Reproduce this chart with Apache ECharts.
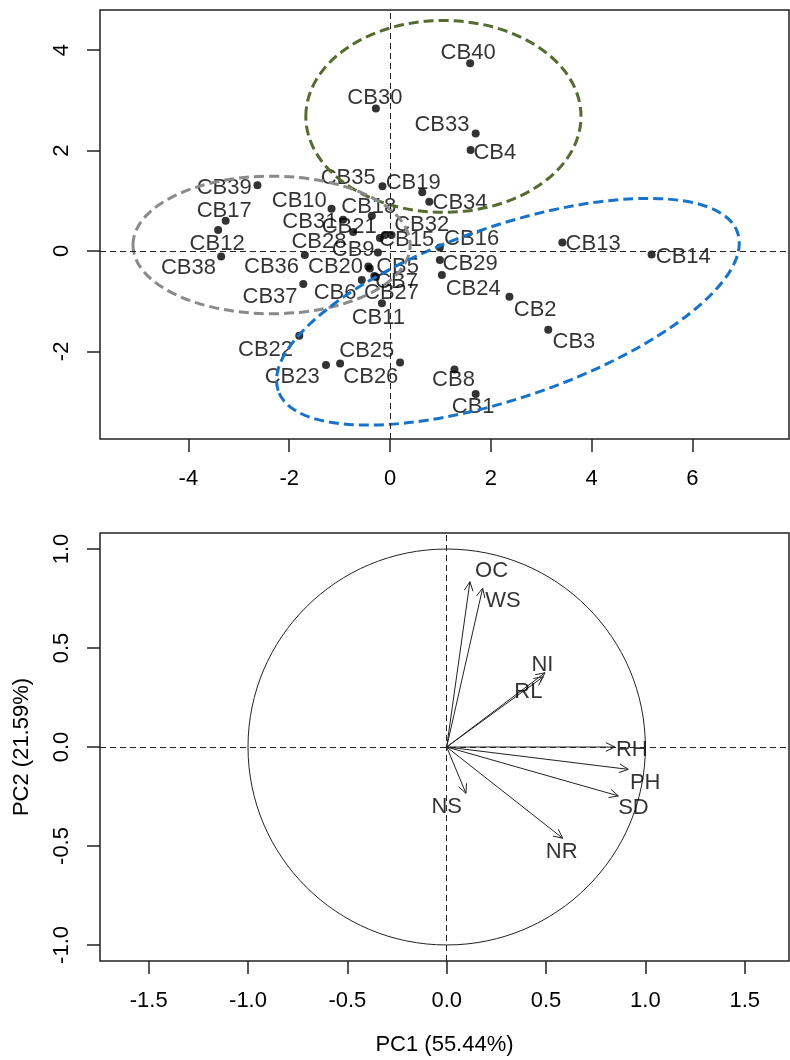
<!DOCTYPE html>
<html>
<head>
<meta charset="utf-8">
<title>PCA</title>
<script src="https://cdn.jsdelivr.net/npm/echarts@6/dist/echarts.min.js"></script>
<style>
    html, body { margin: 0; padding: 0; background: #fff; }
    #main { width: 790px; height: 1060px; }
</style>
</head>
<body>
<div id="main"></div>
<script>
    // scores (top panel)
    var sampleNames = ['CB1', 'CB2', 'CB3', 'CB4', 'CB5', 'CB6', 'CB7', 'CB8', 'CB9', 'CB10',
        'CB11', 'CB12', 'CB13', 'CB14', 'CB15', 'CB16', 'CB17', 'CB18', 'CB19', 'CB20',
        'CB21', 'CB22', 'CB23', 'CB24', 'CB25', 'CB26', 'CB27', 'CB28', 'CB29', 'CB30',
        'CB31', 'CB32', 'CB33', 'CB34', 'CB35', 'CB36', 'CB37', 'CB38', 'CB39', 'CB40'];
    var scorePc1 = [1.70, 2.37, 3.14, 1.60, -0.40, -0.56, -0.31, 1.28, -0.24, -1.16,
        -0.16, -3.41, 3.42, 5.19, -0.10, 0.99, -3.26, -0.36, 0.64, -0.43,
        -0.73, -1.80, -1.27, 1.03, 0.20, -0.99, -0.28, -0.20, 0.99, -0.28,
        -0.93, 0.03, 1.70, 0.78, -0.15, -1.69, -1.72, -3.35, -2.63, 1.59];
    var scorePc2 = [-2.85, -0.91, -1.57, 2.01, -0.35, -0.58, -0.50, -2.36, -0.03, 0.84,
        -1.04, 0.42, 0.17, -0.07, 0.32, 0.07, 0.60, 0.70, 1.17, -0.31,
        0.38, -1.69, -2.27, -0.48, -2.22, -2.24, -0.52, 0.26, -0.18, 2.84,
        0.62, 0.32, 2.34, 0.98, 1.29, -0.08, -0.66, -0.11, 1.31, 3.74];
    // where each sample name is written
    var textPc1 = [1.65, 2.88, 3.65, 2.08, 0.15, -1.09, 0.13, 1.26, -0.73, -1.80,
        -0.23, -3.43, 4.03, 5.82, 0.33, 1.62, -3.29, -0.42, 0.46, -1.08,
        -0.81, -2.47, -1.94, 1.65, -0.46, -0.38, 0.03, -1.41, 1.59, -0.30,
        -1.59, 0.63, 1.03, 1.39, -0.83, -2.35, -2.38, -4.00, -3.29, 1.55];
    var textPc2 = [-3.10, -1.18, -1.81, 1.95, -0.31, -0.84, -0.61, -2.57, 0.02, 1.00,
        -1.34, 0.15, 0.15, -0.11, 0.22, 0.24, 0.80, 0.88, 1.35, -0.31,
        0.48, -1.97, -2.50, -0.76, -2.00, -2.50, -0.84, 0.19, -0.25, 3.05,
        0.58, 0.52, 2.51, 0.95, 1.45, -0.31, -0.91, -0.34, 1.25, 3.94];

    // group ellipses: centre x, centre y, half width, half height, angle (deg)
    var ellipseUpper = [1.06, 2.68, 2.73, 1.91, 0];
    var ellipseLeft = [-2.35, 0.12, 2.75, 1.37, 0];
    var ellipseRight = [2.34, -1.21, 4.82, 1.71, 19];

    var topXTicks = [-4, -2, 0, 2, 4, 6];
    var topYTicks = [-2, 0, 2, 4];

    // loadings (bottom panel)
    var varNames = ['OC', 'WS', 'NI', 'RL', 'RH', 'PH', 'SD', 'NS', 'NR'];
    var loadPc1 = [0.117, 0.181, 0.495, 0.486, 0.847, 0.914, 0.864, 0.097, 0.584];
    var loadPc2 = [0.835, 0.802, 0.375, 0.355, 0.000, -0.113, -0.247, -0.234, -0.461];
    var varTextPc1 = [0.226, 0.283, 0.482, 0.411, 0.932, 0.999, 0.940, 0.000, 0.579];
    var varTextPc2 = [0.887, 0.736, 0.414, 0.278, -0.015, -0.182, -0.310, -0.301, -0.529];
    var unitCircle = [0, 0, 1, 1, 0];

    var loadTicks = [-1.5, -1, -0.5, 0, 0.5, 1, 1.5];
    var loadYTicks = [-1, -0.5, 0, 0.5, 1];

    var FONT = '"Liberation Sans", Arial, sans-serif';
    var INK = '#222';

    function zip(xs, ys, names) {
        var out = [];
        for (var i = 0; i < xs.length; i++) {
            out.push(names ? { name: names[i], value: [xs[i], ys[i]] } : [xs[i], ys[i]]);
        }
        return out;
    }

    function ellipseRenderer(stroke, width, dash) {
        return function (params, api) {
            var c = api.coord([api.value(0), api.value(1)]);
            var rx = api.size([api.value(2), 0])[0];
            var ry = api.size([0, api.value(3)])[1];
            return {
                type: 'ellipse',
                x: c[0],
                y: c[1],
                rotation: api.value(4) * Math.PI / 180,
                shape: { cx: 0, cy: 0, rx: rx, ry: ry },
                style: { fill: 'none', stroke: stroke, lineWidth: width, lineDash: dash }
            };
        };
    }

    function renderArrow(params, api) {
        var o = api.coord([0, 0]);
        var t = api.coord([api.value(0), api.value(1)]);
        var ang = Math.atan2(t[1] - o[1], t[0] - o[0]);
        var len = 10, spread = Math.PI / 7;
        var p1 = [t[0] - len * Math.cos(ang - spread), t[1] - len * Math.sin(ang - spread)];
        var p2 = [t[0] - len * Math.cos(ang + spread), t[1] - len * Math.sin(ang + spread)];
        return {
            type: 'group',
            children: [
                { type: 'line', shape: { x1: o[0], y1: o[1], x2: t[0], y2: t[1] },
                    style: { stroke: INK, lineWidth: 1 } },
                { type: 'polyline', shape: { points: [p1, t, p2] },
                    style: { stroke: INK, fill: 'none', lineWidth: 1 } }
            ]
        };
    }

    function valueAxis(grid, min, max, ticks, isY, decimals) {
        return {
            type: 'value',
            gridIndex: grid,
            min: min,
            max: max,
            axisLine: { show: false, onZero: false },
            splitLine: { show: false },
            axisTick: { show: true, length: 13, customValues: ticks,
                lineStyle: { color: INK, width: 1.5 } },
            axisLabel: {
                customValues: ticks,
                fontFamily: FONT,
                fontSize: 22,
                color: '#000',
                margin: isY ? 27 : 29,
                rotate: isY ? 90 : 0,
                formatter: function (v) { return v.toFixed(decimals); }
            }
        };
    }

    var zeroLines = {
        silent: true,
        symbol: ['none', 'none'],
        label: { show: false },
        lineStyle: { color: INK, width: 1, type: [6, 4] },
        data: [{ xAxis: 0 }, { yAxis: 0 }]
    };

    var textStyle = { show: true, position: 'inside', fontFamily: FONT, fontSize: 22, color: '#000',
        formatter: function (p) { return p.name; } };

    var chart = echarts.init(document.getElementById('main'), null, { renderer: 'canvas' });

    chart.setOption({
        animation: false,
        backgroundColor: '#fff',
        grid: [
            { left: 100, top: 10, width: 689, height: 429, show: true, borderColor: INK, borderWidth: 1.5 },
            { left: 100, top: 533, width: 689, height: 428, show: true, borderColor: INK, borderWidth: 1.5 }
        ],
        xAxis: [
            valueAxis(0, -5.754, 7.917, topXTicks, false, 0),
            Object.assign(valueAxis(1, -1.745, 1.723, loadTicks, false, 1), {
                name: 'PC1 (55.44%)',
                nameLocation: 'middle',
                nameGap: 73,
                nameTextStyle: { fontFamily: FONT, fontSize: 22, color: '#000' }
            })
        ],
        yAxis: [
            valueAxis(0, -3.745, 4.80, topYTicks, true, 0),
            Object.assign(valueAxis(1, -1.081, 1.081, loadYTicks, true, 1), {
                name: 'PC2 (21.59%)',
                nameLocation: 'middle',
                nameGap: 67,
                nameTextStyle: { fontFamily: FONT, fontSize: 22, color: '#000' }
            })
        ],
        series: [
            {
                type: 'scatter',
                xAxisIndex: 0,
                yAxisIndex: 0,
                symbolSize: 8,
                itemStyle: { color: '#000' },
                data: zip(scorePc1, scorePc2),
                markLine: zeroLines,
                z: 3
            },
            {
                type: 'scatter',
                xAxisIndex: 0,
                yAxisIndex: 0,
                symbolSize: 1,
                itemStyle: { color: 'rgba(0,0,0,0)' },
                label: textStyle,
                data: zip(textPc1, textPc2, sampleNames),
                z: 2
            },
            {
                type: 'custom', xAxisIndex: 0, yAxisIndex: 0, silent: true, z: 4,
                renderItem: ellipseRenderer('#556b2f', 3, [10, 5]),
                data: [ellipseUpper]
            },
            {
                type: 'custom', xAxisIndex: 0, yAxisIndex: 0, silent: true, z: 4,
                renderItem: ellipseRenderer('#8a8a8a', 3, [10, 5]),
                data: [ellipseLeft]
            },
            {
                type: 'custom', xAxisIndex: 0, yAxisIndex: 0, silent: true, z: 4,
                renderItem: ellipseRenderer('#1673c8', 3, [10, 5]),
                data: [ellipseRight]
            },
            {
                type: 'custom', xAxisIndex: 1, yAxisIndex: 1, silent: true,
                renderItem: ellipseRenderer(INK, 1, null),
                data: [unitCircle],
                markLine: zeroLines
            },
            {
                type: 'custom', xAxisIndex: 1, yAxisIndex: 1, silent: true,
                renderItem: renderArrow,
                data: zip(loadPc1, loadPc2)
            },
            {
                type: 'scatter',
                xAxisIndex: 1,
                yAxisIndex: 1,
                symbolSize: 1,
                itemStyle: { color: 'rgba(0,0,0,0)' },
                label: textStyle,
                data: zip(varTextPc1, varTextPc2, varNames)
            }
        ]
    });
</script>
</body>
</html>
